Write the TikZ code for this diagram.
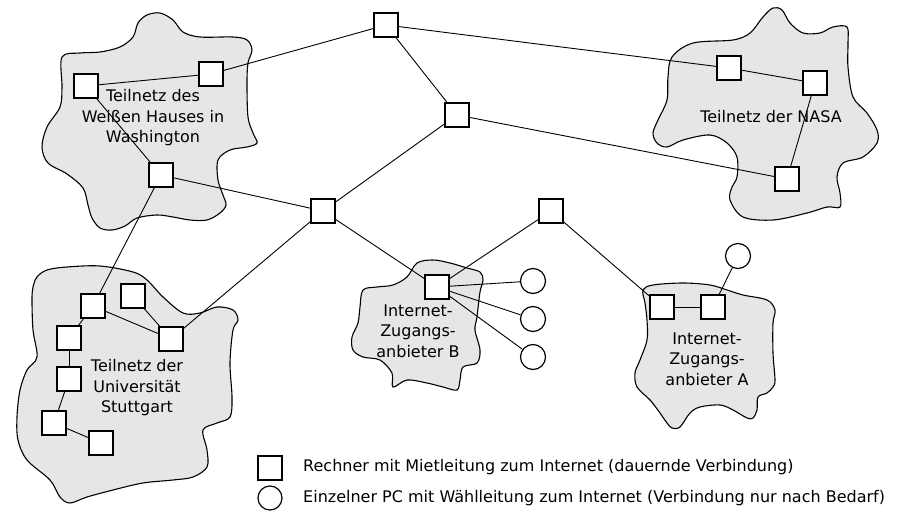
\documentclass[tikz,border=0pt]{standalone}
\usepackage{fontspec}
\setmainfont{DejaVu Sans}
\definecolor{cloudfill}{RGB}{230,230,230}
\begin{document}
\begin{tikzpicture}[x=1pt,y=-1pt,
  pc/.style={draw, line width=1.3pt, fill=white, minimum size=24pt, inner sep=0pt},
  dial/.style={draw, circle, line width=1.2pt, fill=white, minimum size=25pt, inner sep=0pt},
  cloudshape/.style={draw, line width=1.1pt, fill=cloudfill},
  conn/.style={line width=0.9pt},
  lbl/.style={align=center, font=\fontsize{16}{20.5}\selectfont, inner sep=0pt},
  legtext/.style={anchor=west, font=\fontsize{16}{20}\selectfont, inner sep=0pt}]
\useasboundingbox (0,0) rectangle (900,511);
\fill[white] (0,0) rectangle (900,511);

% clouds
\draw[cloudshape] plot[smooth cycle, tension=0.55] coordinates {
 (62,57) (80,53) (100,52) (120,47) (133,37) (138,23) (147,15) (160,13) (173,20) (183,32)
 (200,37) (233,37) (247,40) (252,50) (248,63) (247,83) (248,117) (253,133) (257,143)
 (247,147) (230,150) (218,160) (218,180) (223,195) (226,205) (220,213) (207,220) (190,220)
 (173,217) (157,215) (137,218) (125,226) (112,230) (100,228) (92,218) (88,205) (83,188)
 (67,174) (48,163) (42,147) (47,127) (60,107) (62,87)};
\draw[cloudshape] plot[smooth cycle, tension=0.55] coordinates {
 (668,77) (672,57) (693,43) (733,40) (750,33) (763,17) (773,8) (782,10) (790,23) (803,33)
 (820,33) (833,27) (847,27) (848,43) (848,67) (853,97) (867,113) (877,130) (877,143)
 (863,157) (843,163) (837,177) (840,193) (840,207) (827,207) (807,213) (773,220) (743,217)
 (730,200) (732,187) (737,177) (737,157) (727,143) (710,135) (683,140) (667,147) (657,143)
 (653,133) (658,120) (667,100)};
\draw[cloudshape] plot[smooth cycle, tension=0.55] coordinates {
 (33,287) (37,277) (47,270) (67,267) (100,266) (133,272) (147,280) (163,297) (183,313)
 (200,313) (217,307) (233,310) (238,320) (233,330) (230,363) (232,397) (230,417) (217,423)
 (203,430) (207,450) (207,467) (193,477) (173,480) (143,483) (113,490) (87,497) (70,503)
 (60,497) (50,480) (27,460) (18,440) (17,417) (20,390) (27,370) (37,357) (33,330) (32,300)};
\draw[cloudshape] plot[smooth cycle, tension=0.55] coordinates {
 (360,307) (363,290) (377,287) (393,285) (407,277) (417,263) (433,260) (450,263) (467,268)
 (480,272) (483,280) (480,292) (477,317) (475,330) (480,350) (477,363) (463,367) (460,380)
 (457,390) (443,387) (427,383) (407,380) (393,387) (392,373) (380,360) (363,357) (353,350)
 (352,337) (358,323)};
\draw[cloudshape] plot[smooth cycle, tension=0.55] coordinates {
 (645,303) (643,290) (653,285) (683,283) (710,285) (727,290) (743,295) (767,300) (775,310)
 (773,323) (773,353) (775,380) (773,387) (767,393) (758,397) (757,410) (753,418) (747,418)
 (733,410) (720,405) (700,407) (690,413) (680,427) (672,428) (667,423) (660,413) (650,400)
 (637,387) (635,373) (640,360) (647,340) (647,320)};

% labels
\node[lbl] (lw) at (153,118) {Teilnetz des\\Weißen Hauses in\\Washington};
\node[lbl] (ln) at (771,117) {Teilnetz der NASA};
\node[lbl] (ls) at (137,388) {Teilnetz der\\Universität\\Stuttgart};
\node[lbl] (lb) at (418,331) {Internet-\\Zugangs-\\anbieter B};
\node[lbl] (la) at (707,359) {Internet-\\Zugangs-\\anbieter A};

% backbone
\node[pc] (T) at (386,25) {};
\node[pc] (M) at (457,115) {};
\node[pc] (C) at (323,211) {};
\node[pc] (R) at (551,211) {};
% Washington
\node[pc] (W1) at (86,86) {};
\node[pc] (W2) at (211,74) {};
\node[pc] (W3) at (161,175) {};
% NASA
\node[pc] (N1) at (729,68) {};
\node[pc] (N2) at (815,83) {};
\node[pc] (N3) at (787,179) {};
% Stuttgart
\node[pc] (S1) at (93,306) {};
\node[pc] (S2) at (133,296) {};
\node[pc] (S3) at (171,339) {};
\node[pc] (S4) at (69,338) {};
\node[pc] (S5) at (69,379) {};
\node[pc] (S6) at (54,423) {};
\node[pc] (S7) at (101,443) {};
% provider B
\node[pc] (B) at (437,287) {};
\node[dial] (b1) at (533,281) {};
\node[dial] (b2) at (533,319) {};
\node[dial] (b3) at (533,357) {};
% provider A
\node[pc] (A1) at (662,307) {};
\node[pc] (A2) at (713,307) {};
\node[dial] (a3) at (738,256) {};

% connectors
\draw[conn] (W1) -- (W2);
\draw[conn] (W2) -- (T);
\draw[conn] (T) -- (N1);
\draw[conn] (T) -- (M);
\draw[conn] (M) -- (N3);
\draw[conn] (M) -- (C);
\draw[conn] (W1) -- (W3);
\draw[conn] (W3) -- (C);
\draw[conn] (W3) -- (S1);
\draw[conn] (C) -- (S3);
\draw[conn] (C) -- (B);
\draw[conn] (R) -- (B);
\draw[conn] (R) -- (A1);
\draw[conn] (N1) -- (N2);
\draw[conn] (N2) -- (N3);
\draw[conn] (S1) -- (S3);
\draw[conn] (S2) -- (S3);
\draw[conn] (S1) -- (S4);
\draw[conn] (S4) -- (S5);
\draw[conn] (S5) -- (S6);
\draw[conn] (S6) -- (S7);
\draw[conn] (B) -- (b1);
\draw[conn] (B) -- (b2);
\draw[conn] (B) -- (b3);
\draw[conn] (A1) -- (A2);
\draw[conn] (A2) -- (a3);

% legend
\node[pc] (legpc) at (270,468) {};
\node[dial, minimum size=24pt] (legdial) at (270,498) {};
\node[legtext] (legt1) at (303,467) {Rechner mit Mietleitung zum Internet (dauernde Verbindung)};
\node[legtext] (legt2) at (303,498) {Einzelner PC mit Wählleitung zum Internet (Verbindung nur nach Bedarf)};
\end{tikzpicture}
\end{document}
